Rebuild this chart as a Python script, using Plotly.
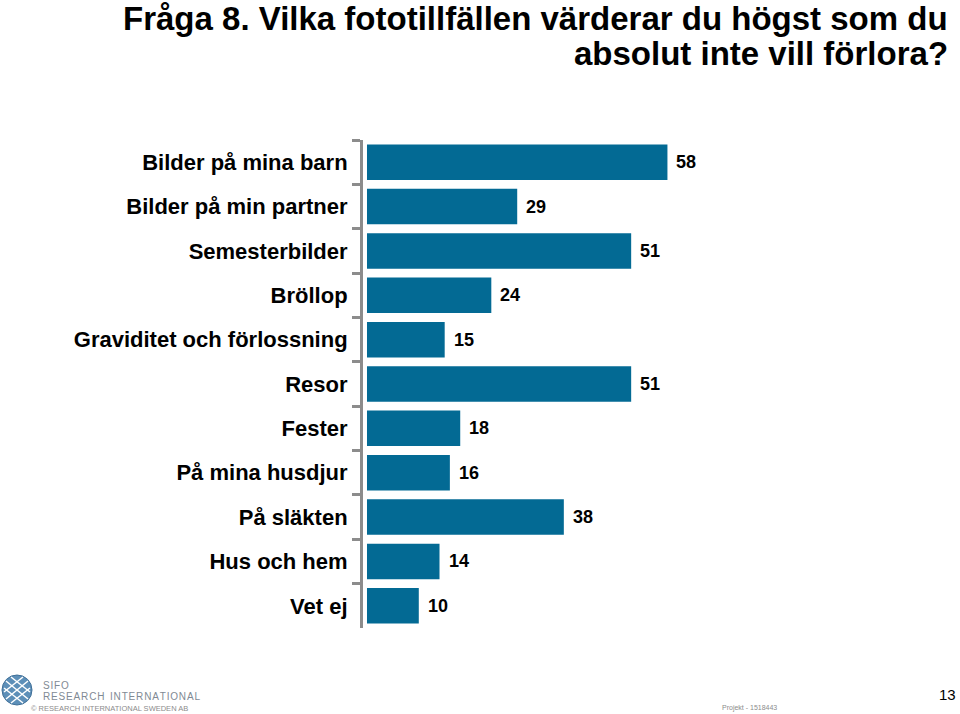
import plotly.graph_objects as go

categories = ["Bilder på mina barn", "Bilder på min partner", "Semesterbilder", "Bröllop",
              "Graviditet och förlossning", "Resor", "Fester", "På mina husdjur",
              "På släkten", "Hus och hem", "Vet ej"]
values = [58, 29, 51, 24, 15, 51, 18, 16, 38, 14, 10]

BAR = "#036A94"
FONT = "Liberation Sans, Arial, sans-serif"

FIG_W, FIG_H = 960, 714
ML, MT, MB = 363, 140, 86
PW = 522
MR = FIG_W - ML - PW
PH = FIG_H - MT - MB


def px_x(x):
    return (x - ML) / PW


def px_y(y):
    return (FIG_H - MB - y) / PH


fig = go.Figure()
fig.add_trace(go.Bar(
    x=values, y=categories, orientation="h",
    marker=dict(color=BAR, line=dict(width=0)),
    hoverinfo="skip", showlegend=False,
))

for c, v in zip(categories, values):
    fig.add_annotation(x=v, y=c, xref="x", yref="y", text=f"<b>{v}</b>",
                       showarrow=False, xanchor="left", xshift=7,
                       font=dict(family=FONT, size=18, color="#000000"))

fig.update_layout(
    width=FIG_W, height=FIG_H,
    paper_bgcolor="white", plot_bgcolor="white",
    margin=dict(l=ML, r=MR, t=MT, b=MB, pad=0),
    bargap=0.2,
    xaxis=dict(range=[-0.77, 100], visible=False, fixedrange=True),
    yaxis=dict(categoryorder="array", categoryarray=categories, autorange="reversed",
               showline=True, linecolor="#8c8c8c", linewidth=3,
               ticks="outside", tickson="boundaries", ticklen=8, tickwidth=3,
               tickcolor="#8c8c8c", ticklabelstandoff=8,
               tickfont=dict(family=FONT, size=22, color="#000000", weight="bold"),
               showgrid=False, zeroline=False, fixedrange=True),
    font=dict(family=FONT),
)

fig.add_annotation(x=px_x(950), y=px_y(18), xref="paper", yref="paper",
                   text="<b>Fråga 8. Vilka fototillfällen värderar du högst som du</b>",
                   showarrow=False, xanchor="right", yanchor="middle",
                   font=dict(family=FONT, size=33, color="#000000"))
fig.add_annotation(x=px_x(950), y=px_y(54), xref="paper", yref="paper",
                   text="<b>absolut inte vill förlora?</b>",
                   showarrow=False, xanchor="right", yanchor="middle",
                   font=dict(family=FONT, size=33, color="#000000"))

# footer
HS = "\u200a"
fig.add_annotation(x=px_x(41), y=px_y(685), xref="paper", yref="paper",
                   text=HS.join("SIFO"),
                   showarrow=False, xanchor="left", yanchor="middle",
                   font=dict(family=FONT, size=10, color="#7f8a94"))
fig.add_annotation(x=px_x(41), y=px_y(696), xref="paper", yref="paper",
                   text=HS.join("RESEARCH") + "  " + HS.join("INTERNATIONAL"),
                   showarrow=False, xanchor="left", yanchor="middle",
                   font=dict(family=FONT, size=10, color="#7f8a94"))
fig.add_annotation(x=px_x(29), y=px_y(708), xref="paper", yref="paper",
                   text="© RESEARCH INTERNATIONAL SWEDEN AB",
                   showarrow=False, xanchor="left", yanchor="middle",
                   font=dict(family=FONT, size=7.5, color="#8c8c8c"))
fig.add_annotation(x=px_x(720), y=px_y(708), xref="paper", yref="paper",
                   text="Projekt - 1518443",
                   showarrow=False, xanchor="left", yanchor="middle",
                   font=dict(family=FONT, size=7, color="#8c8c8c"))
fig.add_annotation(x=px_x(958), y=px_y(694), xref="paper", yref="paper",
                   text="13",
                   showarrow=False, xanchor="right", yanchor="middle",
                   font=dict(family=FONT, size=15, color="#000000"))

# logo: globe-like circle
cx, cy, r = 17, 690, 15
fig.add_shape(type="circle", xref="paper", yref="paper",
              x0=px_x(cx - r), x1=px_x(cx + r), y0=px_y(cy + r), y1=px_y(cy - r),
              fillcolor="#5d8fb8", line=dict(color="#3f6f98", width=1))
for (a, b, c_, d) in [(cx - 11, cy - 9, cx + 11, cy + 9), (cx - 11, cy + 9, cx + 11, cy - 9),
                      (cx - 13, cy - 2, cx + 6, cy + 13), (cx - 6, cy - 13, cx + 13, cy + 2),
                      (cx - 13, cy + 2, cx + 6, cy - 13), (cx - 6, cy + 13, cx + 13, cy - 2)]:
    fig.add_shape(type="line", xref="paper", yref="paper",
                  x0=px_x(a), y0=px_y(b), x1=px_x(c_), y1=px_y(d),
                  line=dict(color="white", width=1.5))

# remove the browser's default 8px body margin so the figure sits at the window's corner
fig.write_html("out.html", config={"displayModeBar": False},
               post_script="document.body.style.margin='0';")
